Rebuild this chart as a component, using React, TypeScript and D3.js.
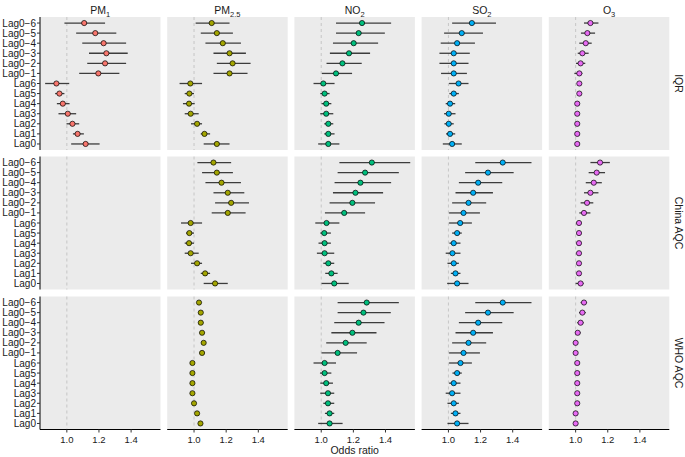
import React from "react";
import * as d3 from "d3";

// Categories, top to bottom
const lagLabels = ["Lag0−6", "Lag0−5", "Lag0−4", "Lag0−3", "Lag0−2", "Lag0−1", "Lag6", "Lag5", "Lag4", "Lag3", "Lag2", "Lag1", "Lag0"];
const pollutants = ["PM1", "PM2.5", "NO2", "SO2", "O3"];
const panelRows = ["IQR", "China AQC", "WHO AQC"];
const pollutantColors = ["#F8766D", "#A3A500", "#00BF7D", "#00B0F6", "#E76BF3"];
const xTicks = [1.0, 1.2, 1.4];

// [odds ratio, lower CI, upper CI], same order as lagLabels
type Row = [number, number, number];

const pm1_IQR: Row[] = [
  [1.108, 0.985, 1.238], [1.177, 1.058, 1.308], [1.229, 1.096, 1.369], [1.246, 1.138, 1.379],
  [1.238, 1.127, 1.369], [1.196, 1.077, 1.327], [0.935, 0.865, 1.015], [0.954, 0.927, 0.985],
  [0.975, 0.938, 1.017], [1.006, 0.948, 1.058], [1.035, 0.998, 1.077], [1.067, 1.038, 1.106],
  [1.117, 1.027, 1.204],
];
const pm25_IQR: Row[] = [
  [1.110, 1.010, 1.221], [1.142, 1.042, 1.242], [1.179, 1.071, 1.292], [1.221, 1.121, 1.323],
  [1.240, 1.142, 1.352], [1.221, 1.121, 1.333], [0.977, 0.910, 1.050], [0.971, 0.942, 1.000],
  [0.969, 0.931, 1.004], [0.979, 0.942, 1.029], [1.019, 0.981, 1.050], [1.065, 1.042, 1.100],
  [1.142, 1.060, 1.221],
];
const no2_IQR: Row[] = [
  [1.254, 1.092, 1.435], [1.233, 1.092, 1.396], [1.202, 1.073, 1.354], [1.173, 1.054, 1.304],
  [1.132, 1.033, 1.252], [1.092, 1.004, 1.192], [1.013, 0.952, 1.083], [1.021, 0.994, 1.052],
  [1.031, 1.002, 1.063], [1.031, 0.994, 1.075], [1.044, 1.019, 1.075], [1.044, 1.019, 1.083],
  [1.044, 0.981, 1.113],
];
const so2_IQR: Row[] = [
  [1.146, 1.023, 1.296], [1.083, 0.973, 1.215], [1.054, 0.952, 1.165], [1.033, 0.944, 1.133],
  [1.033, 0.944, 1.125], [1.033, 0.954, 1.115], [1.063, 1.004, 1.125], [1.033, 1.006, 1.065],
  [1.010, 0.983, 1.042], [1.002, 0.973, 1.044], [1.002, 0.975, 1.033], [1.010, 0.985, 1.042],
  [1.023, 0.965, 1.083],
];
const o3_IQR: Row[] = [
  [1.092, 1.052, 1.142], [1.073, 1.033, 1.121], [1.063, 1.023, 1.100], [1.042, 1.013, 1.081],
  [1.031, 1.002, 1.060], [1.023, 0.992, 1.042], [1.023, 1.010, 1.035], [1.023, 1.013, 1.033],
  [1.010, 1.000, 1.023], [1.010, 1.002, 1.018], [1.010, 1.002, 1.018], [1.010, 1.002, 1.018],
  [1.010, 1.002, 1.018],
];

const pm25_China: Row[] = [
  [1.121, 1.021, 1.231], [1.142, 1.050, 1.242], [1.171, 1.071, 1.292], [1.210, 1.121, 1.313],
  [1.231, 1.131, 1.342], [1.210, 1.110, 1.321], [0.979, 0.919, 1.050], [0.971, 0.950, 1.000],
  [0.969, 0.942, 1.000], [0.979, 0.942, 1.029], [1.019, 0.981, 1.050], [1.069, 1.042, 1.100],
  [1.131, 1.060, 1.210],
];
const no2_China: Row[] = [
  [1.315, 1.113, 1.554], [1.273, 1.102, 1.483], [1.244, 1.083, 1.435], [1.213, 1.073, 1.385],
  [1.194, 1.052, 1.335], [1.143, 1.023, 1.273], [1.033, 0.963, 1.113], [1.019, 0.994, 1.060],
  [1.021, 0.983, 1.060], [1.021, 0.973, 1.081], [1.044, 1.013, 1.081], [1.063, 1.025, 1.102],
  [1.081, 1.002, 1.171],
];
const so2_China: Row[] = [
  [1.338, 1.167, 1.517], [1.246, 1.104, 1.406], [1.185, 1.065, 1.335], [1.154, 1.044, 1.277],
  [1.125, 1.023, 1.235], [1.094, 1.004, 1.196], [1.073, 1.004, 1.146], [1.054, 1.023, 1.083],
  [1.033, 1.006, 1.075], [1.025, 0.983, 1.075], [1.033, 0.994, 1.065], [1.044, 1.015, 1.075],
  [1.054, 0.992, 1.125],
];
const o3_China: Row[] = [
  [1.152, 1.092, 1.213], [1.131, 1.081, 1.183], [1.113, 1.063, 1.163], [1.092, 1.052, 1.142],
  [1.071, 1.031, 1.110], [1.052, 1.023, 1.092], [1.021, 1.013, 1.029], [1.021, 1.013, 1.029],
  [1.021, 1.013, 1.029], [1.021, 1.013, 1.029], [1.021, 1.013, 1.029], [1.021, 1.013, 1.029],
  [1.031, 1.000, 1.050],
];

const pm25_WHO: Row[] = [
  [1.031, 1.018, 1.045], [1.042, 1.028, 1.056], [1.042, 1.028, 1.058], [1.050, 1.035, 1.066],
  [1.060, 1.045, 1.074], [1.050, 1.035, 1.066], [0.990, 0.985, 0.996], [0.990, 0.985, 0.996],
  [0.990, 0.985, 0.996], [0.990, 0.985, 0.996], [1.000, 0.994, 1.006], [1.019, 1.013, 1.025],
  [1.040, 1.033, 1.047],
];
const no2_WHO: Row[] = [
  [1.283, 1.102, 1.483], [1.263, 1.102, 1.433], [1.233, 1.081, 1.394], [1.194, 1.063, 1.344],
  [1.152, 1.031, 1.283], [1.102, 1.002, 1.223], [1.021, 0.952, 1.092], [1.021, 0.992, 1.063],
  [1.031, 0.994, 1.073], [1.042, 0.994, 1.081], [1.042, 1.013, 1.081], [1.052, 1.023, 1.081],
  [1.052, 0.981, 1.133],
];
const so2_WHO: Row[] = [
  [1.338, 1.167, 1.517], [1.246, 1.104, 1.406], [1.185, 1.065, 1.335], [1.154, 1.044, 1.277],
  [1.125, 1.023, 1.235], [1.094, 1.004, 1.196], [1.075, 1.004, 1.146], [1.054, 1.025, 1.083],
  [1.033, 1.004, 1.075], [1.023, 0.983, 1.075], [1.033, 0.994, 1.065], [1.044, 1.015, 1.075],
  [1.054, 0.994, 1.125],
];
const o3_WHO: Row[] = [
  [1.052, 1.031, 1.071], [1.042, 1.021, 1.063], [1.031, 1.010, 1.050], [1.013, 0.996, 1.031],
  [1.000, 0.985, 1.015], [1.000, 0.992, 1.008], [1.010, 1.004, 1.016], [1.010, 1.004, 1.016],
  [1.010, 1.004, 1.016], [1.010, 1.004, 1.016], [1.010, 1.004, 1.016], [1.000, 0.994, 1.006],
  [1.000, 0.994, 1.006],
];

// grid[row][pollutant]
const grid: (Row[] | null)[][] = [
  [pm1_IQR, pm25_IQR, no2_IQR, so2_IQR, o3_IQR],
  [null, pm25_China, no2_China, so2_China, o3_China],
  [null, pm25_WHO, no2_WHO, so2_WHO, o3_WHO],
];

const W = 685;
const H = 457;
const FONT = "'Liberation Sans', Arial, Helvetica, sans-serif";

const panelLeft = 40;
const panelW = 120.5;
const colStep = 127.2;
const rowTops = [17, 156.5, 296.5];
const panelH = 133;

function StripTitle({ name, x }: { name: string; x: number }) {
  const map: Record<string, [string, string]> = {
    PM1: ["PM", "1"],
    "PM2.5": ["PM", "2.5"],
    NO2: ["NO", "2"],
    SO2: ["SO", "2"],
    O3: ["O", "3"],
  };
  const [base, sub] = map[name];
  return (
    <text x={x} y={14} textAnchor="middle" fontSize={10.5} fill="#1a1a1a" fontFamily={FONT}>
      {base}
      <tspan fontSize={7.5} dy={2.5}>{sub}</tspan>
    </text>
  );
}

export default function App() {
  const x = d3.scaleLinear().domain([0.833, 1.583]).range([0, panelW]);
  const y = d3.scalePoint<string>().domain(lagLabels).range([0, panelH]).padding(0.6);

  return (
    <svg width={W} height={H} style={{ position: "absolute", left: 0, top: 0, background: "#fff" }}>
      {pollutants.map((p, ci) => (
        <StripTitle key={p} name={p} x={panelLeft + ci * colStep + panelW / 2} />
      ))}
      {panelRows.map((rname, ri) => {
        const top = rowTops[ri];
        return (
          <g key={rname}>
            {pollutants.map((p, ci) => {
              const left = panelLeft + ci * colStep;
              const data = grid[ri][ci];
              return (
                <g key={p} transform={`translate(${left},${top})`}>
                  <rect x={0} y={0} width={panelW} height={panelH} fill="#EBEBEB" />
                  <line x1={x(1)} x2={x(1)} y1={0} y2={panelH} stroke="#BDBDBD" strokeWidth={0.8} strokeDasharray="3,3" />
                  {data &&
                    data.map((d, i) => (
                      <line key={"e" + i} x1={x(d[1])} x2={x(d[2])} y1={y(lagLabels[i])} y2={y(lagLabels[i])} stroke="#3d3d3d" strokeWidth={1.3} />
                    ))}
                  {data &&
                    data.map((d, i) => (
                      <circle key={"p" + i} cx={x(d[0])} cy={y(lagLabels[i])} r={2.6} fill={pollutantColors[ci]} stroke="#000" strokeWidth={0.7} />
                    ))}
                  {ri === panelRows.length - 1 && (
                    <g>
                      <line x1={0} x2={panelW} y1={panelH} y2={panelH} stroke="#000" strokeWidth={1} />
                      {xTicks.map((t) => (
                        <g key={t}>
                          <line x1={x(t)} x2={x(t)} y1={panelH} y2={panelH + 3} stroke="#333" strokeWidth={1} />
                          <text x={x(t)} y={panelH + 13} textAnchor="middle" fontSize={9.5} fill="#1a1a1a" fontFamily={FONT}>
                            {d3.format(".1f")(t)}
                          </text>
                        </g>
                      ))}
                    </g>
                  )}
                  {ci === 0 && (
                    <g>
                      <line x1={0} x2={0} y1={0} y2={panelH} stroke="#000" strokeWidth={1} />
                      {lagLabels.map((l) => (
                        <g key={l}>
                          <line x1={-3} x2={0} y1={y(l)} y2={y(l)} stroke="#333" strokeWidth={1} />
                          <text x={-4} y={(y(l) as number) + 3.5} textAnchor="end" fontSize={10} fill="#1a1a1a" fontFamily={FONT}>
                            {l}
                          </text>
                        </g>
                      ))}
                    </g>
                  )}
                </g>
              );
            })}
            <text
              transform={`translate(${panelLeft + 4 * colStep + panelW + 5.5},${top + panelH / 2}) rotate(90)`}
              textAnchor="middle"
              fontSize={10.5}
              fill="#1a1a1a"
              fontFamily={FONT}
            >
              {rname}
            </text>
          </g>
        );
      })}
      <text x={panelLeft + (4 * colStep + panelW) / 2} y={454} textAnchor="middle" fontSize={10.5} fill="#1a1a1a" fontFamily={FONT}>
        Odds ratio
      </text>
    </svg>
  );
}
